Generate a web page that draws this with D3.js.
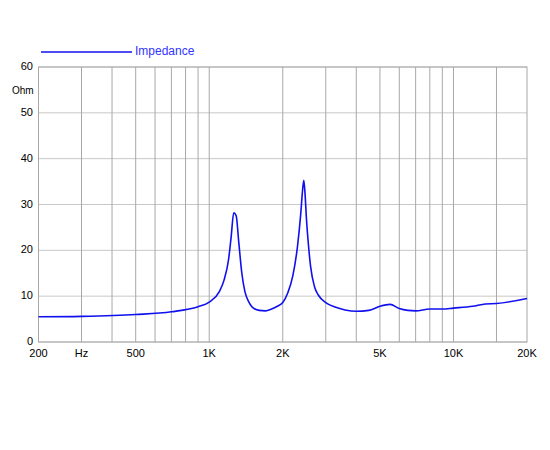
<!DOCTYPE html><html><head><script src="https://cdn.jsdelivr.net/npm/d3@7"></script>
<style>body{margin:0;background:#fff}</style></head><body><svg id="c" width="550" height="450"></svg>
<script>
const freqs=[200,300,500,700,900,1000,1100,1150,1200,1230,1260,1290,1320,1360,1400,1450,1500,1600,1700,1800,1900,2000,2100,2200,2300,2370,2410,2440,2470,2500,2550,2600,2700,2800,3000,3300,3600,4000,4500,5000,5500,6000,6500,7000,8000,9000,10000,12000,13500,15000,20000];
const ohms=[5.5,5.6,6,6.6,7.7,8.7,11,13.5,18,23,28.2,27.5,22,15,11,8.8,7.6,6.9,6.8,7.2,7.8,8.6,10.8,14.5,21,28,33,35.3,32,27,21,16.5,12,10.2,8.6,7.6,7.0,6.7,6.9,7.8,8.2,7.3,6.9,6.8,7.2,7.2,7.4,7.8,8.3,8.4,9.5];
const gridF=[300,400,500,600,700,800,900,1000,2000,3000,4000,5000,6000,7000,8000,9000,10000,15000];
const xTicks=[[200,"200"],[300,"Hz"],[500,"500"],[1000,"1K"],[2000,"2K"],[5000,"5K"],[10000,"10K"],[20000,"20K"]];
const yTicks=[0,10,20,30,40,50,60];
const svg=d3.select("#c");
const x=d3.scaleLog().domain([200,20000]).range([38.5,527]);
const y=d3.scaleLinear().domain([0,60]).range([342,67]);
const f="Arial, 'Liberation Sans', sans-serif";
svg.selectAll(".hg").data(yTicks).join("line").attr("x1",38.5).attr("x2",527).attr("y1",d=>y(d)).attr("y2",d=>y(d)).attr("stroke","#c8c8c8");
svg.selectAll(".vg").data(gridF).join("line").attr("x1",d=>x(d)).attr("x2",d=>x(d)).attr("y1",67).attr("y2",342).attr("stroke","#a8a8a8");
svg.append("rect").attr("x",38.5).attr("y",67).attr("width",488.5).attr("height",275).attr("fill","none").attr("stroke","#a8a8a8");
svg.selectAll(".yl").data(yTicks).join("text").attr("x",33).attr("y",d=>y(d)+3).attr("text-anchor","end").attr("font-family",f).attr("font-size",11).text(d=>d);
svg.append("text").attr("x",12).attr("y",94).attr("font-family",f).attr("font-size",10).text("Ohm");
svg.selectAll(".xl").data(xTicks).join("text").attr("x",d=>x(d[0])).attr("y",357).attr("text-anchor","middle").attr("font-family",f).attr("font-size",11).text(d=>d[1]);
const line=d3.line().x((d,i)=>x(freqs[i])).y(d=>y(d)).curve(d3.curveMonotoneX);
svg.append("path").attr("d",line(ohms)).attr("fill","none").attr("stroke","#1010ee").attr("stroke-width",1.6);
svg.append("line").attr("x1",41).attr("x2",132).attr("y1",52).attr("y2",52).attr("stroke","#1010ee").attr("stroke-width",1.6);
svg.append("text").attr("x",135).attr("y",55).attr("font-family",f).attr("font-size",12).attr("fill","#3333ff").text("Impedance");
</script></body></html>
